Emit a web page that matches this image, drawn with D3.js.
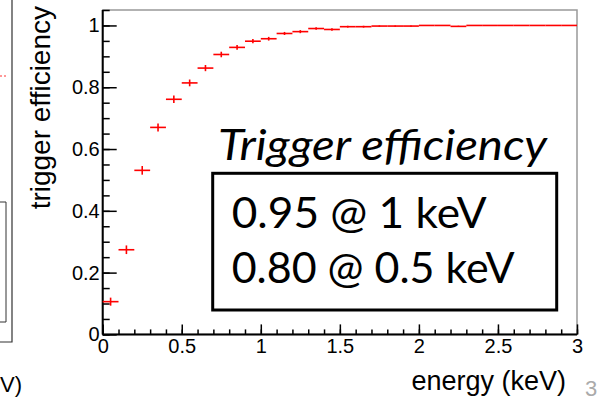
<!DOCTYPE html>
<html>
<head>
<meta charset="utf-8">
<script src="https://cdn.jsdelivr.net/npm/d3@7"></script>
<style>
	body { margin: 0; background: #fff; }
	svg { display: block; }
</style>
</head>
<body>
<svg width="599" height="400"></svg>
<script>
const svg = d3.select('svg')
const width = +svg.attr('width')
const height = +svg.attr('height')

// bin centres (keV), bin width 0.1
const energy = [0.05, 0.15, 0.25, 0.35, 0.45, 0.55, 0.65, 0.75, 0.85, 0.95,
	1.05, 1.15, 1.25, 1.35, 1.45, 1.55, 1.65, 1.75, 1.85, 1.95,
	2.05, 2.15, 2.25, 2.35, 2.45, 2.55, 2.65, 2.75, 2.85, 2.95]
const efficiency = [0.106, 0.274, 0.531, 0.670, 0.761, 0.814, 0.862, 0.906, 0.929, 0.949,
	0.957, 0.974, 0.980, 0.990, 0.987, 0.996, 0.996, 0.998, 0.998, 0.998,
	1.000, 1.000, 0.997, 1.000, 1.000, 1.000, 1.000, 1.000, 1.000, 1.000]
const effError = [0.013, 0.014, 0.014, 0.013, 0.012, 0.011, 0.010, 0.009, 0.008, 0.007,
	0.006, 0.005, 0.005, 0.004, 0.004, 0.003, 0.003, 0.002, 0.002, 0.002,
	0.001, 0.001, 0.002, 0.001, 0.001, 0.001, 0.001, 0.001, 0.001, 0.001]
const binWidth = 0.1

const xTicks = [0, 0.5, 1, 1.5, 2, 2.5, 3]
const yTicks = [0, 0.2, 0.4, 0.6, 0.8, 1]
const boxTitle = 'Trigger efficiency'
const boxLines = ['0.95 @ 1 keV', '0.80 @ 0.5 keV']

const frame = { left: 102.7, right: 577, top: 10, bottom: 334.4 }

const x = d3.scaleLinear().domain([0, 3]).range([frame.left, frame.right])
const y = d3.scaleLinear().domain([0, 1.05]).range([frame.bottom, frame.top])

const font = 'Liberation Sans, Arial, Helvetica, sans-serif'

/*

NEIGHBOUR PLOT FRAGMENTS (left edge of slide)

*/
const frag = svg.append('g')
	.attr('fill', 'none')
	.attr('stroke', '#333')
	.attr('stroke-width', 1.2)

frag.append('path').attr('d', 'M12,0V342H0')
frag.append('path').attr('d', 'M0,202H6V322H0').attr('stroke-width', 1)
frag.append('line')
	.attr('x1', 0).attr('x2', 8).attr('y1', 76).attr('y2', 76)
	.attr('stroke', '#f33')
	.attr('stroke-dasharray', '2,2')

svg.append('text')
	.attr('x', 0).attr('y', 392)
	.style('font-family', font)
	.style('font-size', '22px')
	.text('V)')

svg.append('text')
	.attr('x', 585).attr('y', 396)
	.style('font-family', font)
	.style('font-size', '22px')
	.attr('fill', '#aaa')
	.text('3')

/*

FRAME AND AXES

*/
svg.append('rect')
	.attr('x', frame.left).attr('y', frame.top)
	.attr('width', frame.right - frame.left)
	.attr('height', frame.bottom - frame.top)
	.attr('fill', 'none')
	.attr('stroke', '#999')
	.attr('stroke-width', 1.5)

const styleAxis = g => {
	g.select('.domain').remove()
	g.selectAll('line').attr('stroke', '#000').attr('stroke-width', 1.5)
	g.selectAll('text')
		.style('font-family', font)
		.style('font-size', '20px')
		.attr('fill', '#000')
}

// minor ticks
svg.append('g')
	.attr('transform', `translate(${frame.left},0)`)
	.call(d3.axisLeft(y).tickValues(y.ticks(21)).tickSize(-7).tickFormat(''))
	.call(styleAxis)

svg.append('g')
	.attr('transform', `translate(0,${frame.bottom})`)
	.call(d3.axisBottom(x).tickValues(x.ticks(30)).tickSize(-5).tickFormat(''))
	.call(styleAxis)

// major ticks + labels
svg.append('g')
	.attr('transform', `translate(${frame.left},0)`)
	.call(d3.axisLeft(y).tickValues(yTicks).tickSize(-14).tickPadding(3).tickFormat(d3.format('')))
	.call(styleAxis)

svg.append('g')
	.attr('transform', `translate(0,${frame.bottom})`)
	.call(d3.axisBottom(x).tickValues(xTicks).tickSize(-10).tickPadding(4).tickFormat(d3.format('')))
	.call(styleAxis)

svg.append('line')
	.attr('x1', frame.left).attr('x2', frame.left)
	.attr('y1', frame.top).attr('y2', frame.bottom)
	.attr('stroke', '#000').attr('stroke-width', 2)

svg.append('line')
	.attr('x1', frame.left).attr('x2', frame.right)
	.attr('y1', frame.bottom).attr('y2', frame.bottom)
	.attr('stroke', '#000').attr('stroke-width', 2)

// axis titles
svg.append('text')
	.attr('transform', `translate(50,6) rotate(-90)`)
	.attr('text-anchor', 'end')
	.style('font-family', font)
	.style('font-size', '28px')
	.text('trigger efficiency')

svg.append('text')
	.attr('x', 566).attr('y', 390)
	.attr('text-anchor', 'end')
	.style('font-family', font)
	.style('font-size', '27px')
	.text('energy (keV)')

/*

DATA POINTS

*/
const points = energy.map((e, i) => ({ e: e, v: efficiency[i], err: effError[i] }))

const marks = svg.append('g')
	.attr('stroke', '#ff0000')
	.attr('stroke-width', 1.6)

marks.selectAll('.hbar')
	.data(points)
	.enter()
	.append('line')
	.attr('class', 'hbar')
	.attr('x1', d => x(d.e - binWidth / 2))
	.attr('x2', d => x(d.e + binWidth / 2))
	.attr('y1', d => y(d.v))
	.attr('y2', d => y(d.v))

marks.selectAll('.vbar')
	.data(points)
	.enter()
	.append('line')
	.attr('class', 'vbar')
	.attr('x1', d => x(d.e))
	.attr('x2', d => x(d.e))
	.attr('y1', d => y(d.v + d.err))
	.attr('y2', d => y(d.v - d.err))

/*

ANNOTATION BOX

*/
svg.append('text')
	.attr('x', 218).attr('y', 160)
	.attr('textLength', 329)
	.attr('lengthAdjust', 'spacingAndGlyphs')
	.style('font-family', 'Lato, "Open Sans", sans-serif')
	.style('font-style', 'italic')
	.style('font-size', '42px')
	.text(boxTitle)

svg.append('rect')
	.attr('x', 212.7).attr('y', 173.3)
	.attr('width', 344).attr('height', 136.7)
	.attr('fill', '#fff')
	.attr('stroke', '#000')
	.attr('stroke-width', 3)

svg.selectAll('.boxline')
	.data(boxLines)
	.enter()
	.append('text')
	.attr('class', 'boxline')
	.attr('x', 231.7)
	.attr('y', (d, i) => 228 + i * 55)
	.attr('textLength', (d, i) => i === 0 ? 255 : 283)
	.attr('lengthAdjust', 'spacingAndGlyphs')
	.style('font-family', 'Lato, "Open Sans", sans-serif')
	.style('font-size', '42px')
	.text(d => d)
</script>
</body>
</html>
